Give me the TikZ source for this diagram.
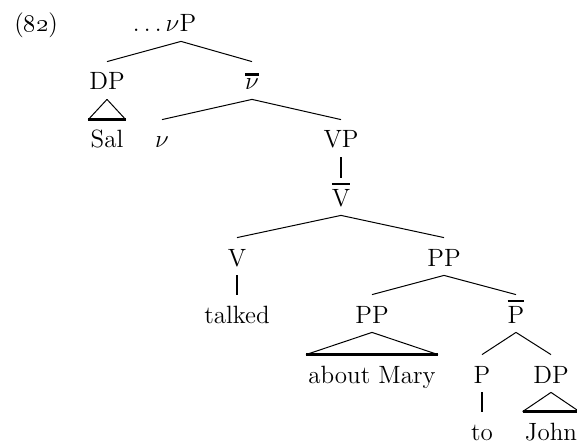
\documentclass[tikz,border=0pt]{standalone}
\usepackage{amsmath,amssymb}
\usepackage{fix-cm}
\usetikzlibrary{positioning}

\newcommand{\barcat}[1]{\setbox0\hbox{#1}\vbox{\hrule height 1.3pt width \wd0 \kern1.8pt \box0}}

\begin{document}
\begin{tikzpicture}[x=0.5pt, y=-0.5pt]
        \tikzset{cat/.style={
            anchor=base,
            inner xsep=1pt,
            inner ysep=4.5pt,
            text height=9.5pt,
            text depth=0pt,
            font=\fontsize{12.5}{15}\selectfont
        }}
        \tikzset{branch/.style={line width=0.5pt}}
        \tikzset{unary/.style={line width=1.3pt}}
        \tikzset{roofbase/.style={line width=1.3pt}}
        \useasboundingbox (0,0) rectangle (577,443);

        \node[cat, anchor=base west] (ex) at (12, 32) {(\oldstylenums{82})};

        % upper part
        \node[cat] (vP) at (181, 32) {\llap{$\dots\,$}$\nu$P};
        \node[cat] (DPa) at (107, 90) {DP};
        \node[cat] (vbar) at (252, 90) {\barcat{$\nu$}};
        \node[cat] (Sal) at (107, 148) {Sal};
        \node[cat] (v) at (162, 148) {$\nu$};
        \node[cat] (VP) at (341, 148) {VP};
        \node[cat] (Vbar) at (341, 206) {\barcat{V}};

        \draw[branch] (vP.south) -- (DPa.north);
        \draw[branch] (vP.south) -- (vbar.north);
        \draw[branch] (DPa.south) -- (Sal.north west);
        \draw[branch] (DPa.south) -- (Sal.north east);
        \draw[roofbase] (Sal.north west) -- (Sal.north east);
        \draw[branch] (vbar.south) -- (v.north);
        \draw[branch] (vbar.south) -- (VP.north);
        \draw[unary] (VP.south) -- (Vbar.north);

        % lower part
        \node[cat] (V) at (237, 266) {V};
        \node[cat] (PPa) at (444, 266) {PP};
        \node[cat] (talked) at (237, 323) {talked};
        \node[cat] (PPb) at (372, 323) {PP};
        \node[cat] (Pbar) at (516, 323) {\barcat{P}};
        \node[cat] (aboutMary) at (372, 383) {about Mary};
        \node[cat] (P) at (482, 383) {P};
        \node[cat] (DPb) at (551, 383) {DP};
        \node[cat] (to) at (482, 440) {to};
        \node[cat] (John) at (551, 440) {John};

        \draw[branch] (Vbar.south) -- (V.north);
        \draw[branch] (Vbar.south) -- (PPa.north);
        \draw[unary] (V.south) -- (talked.north);
        \draw[branch] (PPa.south) -- (PPb.north);
        \draw[branch] (PPa.south) -- (Pbar.north);
        \draw[branch] (PPb.south) -- (aboutMary.north west);
        \draw[branch] (PPb.south) -- (aboutMary.north east);
        \draw[roofbase] (aboutMary.north west) -- (aboutMary.north east);
        \draw[branch] (Pbar.south) -- (P.north);
        \draw[branch] (Pbar.south) -- (DPb.north);
        \draw[unary] (P.south) -- (to.north);
        \draw[branch] (DPb.south) -- (John.north west);
        \draw[branch] (DPb.south) -- (John.north east);
        \draw[roofbase] (John.north west) -- (John.north east);
    \end{tikzpicture}
\end{document}
